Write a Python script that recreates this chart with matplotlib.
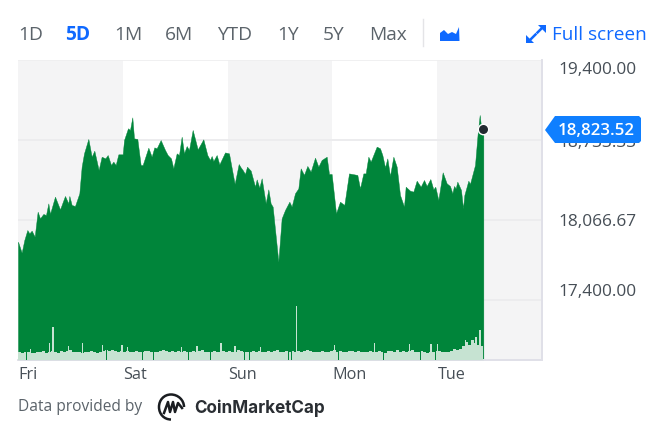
import matplotlib
matplotlib.use("Agg")
import matplotlib.pyplot as plt
from matplotlib.patches import Polygon, PathPatch
from matplotlib.path import Path

plt.rcParams['font.family'] = ['Open Sans', 'DejaVu Sans']

# --- data ---------------------------------------------------------------
hours = [0,.84,1.45,2.14,2.60,3.13,3.82,4.50,5.04,5.80,6.41,6.95,7.33,8.47,9.62,10.76,11.53,11.76,12.29,13.05,
 14.05,14.58,15.12,16.11,16.87,17.48,18.47,19.16,20.0,20.54,21.3,21.83,22.37,22.98,23.97,24.28,25.19,25.65,26.18,26.57,
 27.33,28.09,28.55,29.85,30.61,31.22,31.76,32.67,33.67,34.28,35.04,35.57,36.34,36.87,37.48,38.02,38.63,39.16,40.0,41.15,
 42.44,43.36,43.97,44.35,44.74,45.5,46.11,47.41,48.32,49.09,49.62,50.54,51.0,51.45,51.99,52.45,53.29,
 54.28,54.66,55.27,55.8,56.72,57.33,57.86,58.32,59.62,60.38,61.15,62.14,62.67,63.44,64.2,64.73,65.5,66.26,67.02,68.02,
 68.78,69.54,70.69,71.22,71.83,72.83,73.74,74.73,75.8,77.71,78.32,79.09,79.62,80.23,80.77,82.14,82.9,83.44,84.05,84.58,
 85.19,85.96,86.72,87.48,88.4,88.78,89.77,90.54,91.3,92.22,92.98,93.59,94.43,95.12,95.57,96.26,97.25,98.17,98.93,99.47,
 99.85,100.23,100.61,101.45,101.91,102.22,103.13,103.51,104.66,105.27,105.73,106.04,106.57]
prices = [17886,17794,17900,17983,17955,17978,17928,18136,18080,18117,18108,18205,18117,18261,18155,18267,18205,18267,18192,18183,
 18289,18511,18622,18742,18594,18644,18483,18594,18580,18608,18525,18553,18525,18614,18614,18733,18831,18817,18922,18747,
 18742,18525,18525,18669,18594,18672,18664,18733,18650,18608,18580,18497,18622,18608,18761,18622,18683,18650,18817,18655,
 18739,18608,18567,18600,18558,18608,18530,18630,18622,18469,18367,18533,18505,18483,18450,18511,18478,
 18344,18405,18336,18414,18205,18322,18205,18178,17719,18080,18150,18219,18178,18289,18330,18497,18442,18517,18469,18586,
 18511,18567,18594,18450,18450,18122,18219,18192,18455,18442,18330,18455,18455,18594,18553,18678,18664,18608,18505,18580,
 18433,18594,18511,18275,18178,18344,18311,18303,18394,18344,18400,18350,18408,18322,18344,18233,18464,18372,18350,18289,
 18350,18330,18386,18317,18164,18275,18394,18367,18525,18789,18942,18844,18823.52]
volume = [8,7,8,8,7,7,8,8,9,7,8,9,8,7,9,8,9,10,8,8,8,7,8,8,9,8,7,8,9,10,
 9,10,9,8,9,8,9,8,8,9,8,8,9,9,8,8,8,9,10,9,
 8,9,8,9,8,9,8,8,9,8,9,10,8,8,8,9,8,8,9,8,
 9,8,8,10,9,8,8,8,9,8,9,8,8,9,8,9,10,8,8,9,
 8,9,8,9,8,9,10,9,8,8,8,9,8,8,9,10,8,9,8,8,
 9,9,8,9,8,8,8,9,8,8,9,8,7,9,9,8,10,8,9,8,
 9,10,8,8,9,8,7,8,8,9,9,8,8,8,9,11,10,11,14,18,15,20,17,15,14]
volume_hours = [i * 0.687 for i in range(len(volume))]
spike_hours = [2.9,7.3,8.0,11.5,14.7,19.4,23.8,25.0,37.5,41.0,46.5,49.7,55.5,63.7,72.5,81.7,89.7,94.6,96.0,102.4,104.9,105.8]
spike_vols = [11,17,33,14,17,15,15,13,13,14,17,14,13,54,15,17,16,16,16,20,23,30]
dip_hours = [2.0,7.9,20.3,28.6,31.1,39.0,44.0,51.8,53.1,61.9,62.7,73.4,83.7,92.1,94.7,95.7]
day_labels = ["Fri", "Sat", "Sun", "Mon", "Tue"]
range_labels = ["1D", "5D", "1M", "6M", "YTD", "1Y", "5Y", "Max"]
y_ticks = [17400.00, 18066.67, 18733.33, 19400.00]
last_price = 18823.52

GREEN = "#00853a"
VOL = "#c6e3d2"
TXT = "#464e56"
BLUE = "#0f69ff"

W, H = 651, 426
fig = plt.figure(figsize=(W/100, H/100), dpi=100, facecolor="white")

# main axes occupies px x 18..542, y 60..360
ax = fig.add_axes([18/W, 1-360/H, (542-18)/W, 300/H])
ax.set_xlim(0, 524/104.8*24)
ax.set_ylim(16900, 19400)
ax.set_facecolor("white")
for i in range(0, 5, 2):
    ax.axvspan(i*24, (i+1)*24, color="#f4f4f5", lw=0, zorder=0)
for v in y_ticks[:3]:
    ax.axhline(v, color="#ececee", lw=1.4, zorder=1)
ax.axhline(19400, color="#eeeeef", lw=1.2, zorder=1)
ax.fill_between(hours, prices, 16900, color=GREEN, lw=0.3, zorder=2)

# volume, on a secondary scale
vx = ax.twinx()
vx.set_ylim(0, 300)
vx.patch.set_visible(False)
vx.bar(volume_hours, volume, width=0.70, align="edge", color=VOL, lw=0, zorder=3)
vx.bar(dip_hours, [14]*len(dip_hours), width=0.2, color=GREEN, lw=0, zorder=4)
vx.bar(spike_hours, spike_vols, width=0.27, color=VOL, lw=0, zorder=5)

for a in (ax, vx):
    a.set_xticks([]); a.set_yticks([])
    for s in ("top", "left"):
        a.spines[s].set_visible(False)
    for s in ("right", "bottom"):
        a.spines[s].set_color("#e0e0e8")
        a.spines[s].set_linewidth(1.2)

# last point marker, on the price scale of the twin layer
marker_y = (last_price-16900)/2500*300
vx.plot([hours[-1]], [marker_y], "o", ms=7.5, mfc="#232a31", mec="white", mew=1, zorder=6, clip_on=False)

# overlay in pixel coordinates
ov = fig.add_axes([0, 0, 1, 1], zorder=10)
ov.set_xlim(0, W); ov.set_ylim(H, 0); ov.axis("off"); ov.patch.set_visible(False)

# y tick labels
for v, py in zip(y_ticks, [292, 222, 143, 70]):
    ov.text(558, py, f"{v:,.2f}", color=TXT, fontsize=12.4, ha="left", va="center")

# current price flag
ov.add_patch(Polygon([[545,130],[555,116],[639,116],[641,118],[641,141],[639,143],[555,143]], closed=True, fc="#0f7fff", ec="none", zorder=5))
ov.text(558, 131, f"{last_price:,.2f}", color="white", fontsize=12.2, fontweight="semibold", ha="left", va="center", zorder=6)

# day labels
for lab, px in zip(day_labels, [18, 123, 228, 332, 437]):
    ov.text(px+0.5, 375, lab, color=TXT, fontsize=11.7, ha="left", va="center")

# range buttons
for lab, px in zip(range_labels, [31, 78, 128, 179, 235, 288, 334, 388]):
    is5 = lab == "5D"
    ov.text(px, 35.5, lab, color=BLUE if is5 else "#5b636a", fontsize=13.8,
            fontweight="bold" if is5 else "normal", ha="center", va="center")
ov.plot([423, 423], [19, 46], color="#e4e4e7", lw=1)

# area icon
ov.add_patch(Polygon([[440,41],[440,33],[444,30],[448,34],[452,32],[456,34],[459,27],[459.5,41]], closed=True, fc=BLUE, ec="none"))

# full screen icon + text
ov.plot([530, 535.5], [40, 34.5], color=BLUE, lw=1.8)
ov.plot([537.5, 543], [32.5, 27], color=BLUE, lw=1.8)
ov.add_patch(Polygon([[526,43],[526,35],[534,43]], closed=True, fc=BLUE, ec="none"))
ov.add_patch(Polygon([[546,25],[546,33],[538,25]], closed=True, fc=BLUE, ec="none"))
ov.text(552, 35.5, "Full screen", color=BLUE, fontsize=13.6, ha="left", va="center")

# footer
ov.text(18, 407, "Data provided by", color="#5b636a", fontsize=11.2, ha="left", va="center")
ov.text(194, 408, "CoinMarketCap", color="#2a2e33", fontsize=12.3, fontweight="bold", family=["Inter", "DejaVu Sans"], ha="left", va="center")
# logo
logo = Path([(184,407),(184,400),(178,394.5),(171,394.5),(164,394.5),(159,400),(159,407),(159,414),(164,419.5),(171,419.5)],
            [Path.MOVETO, Path.CURVE4, Path.CURVE4, Path.CURVE4, Path.CURVE4, Path.CURVE4, Path.CURVE4, Path.CURVE4, Path.CURVE4, Path.CURVE4])
ov.add_patch(PathPatch(logo, fc="none", ec="#1a1d21", lw=1.8))
ov.plot([164,168,170,173,175,178,182], [413,402,412,402,412,403,408], color="#1a1d21", lw=1.8)

fig.savefig("out.png", dpi=100, facecolor="white")
